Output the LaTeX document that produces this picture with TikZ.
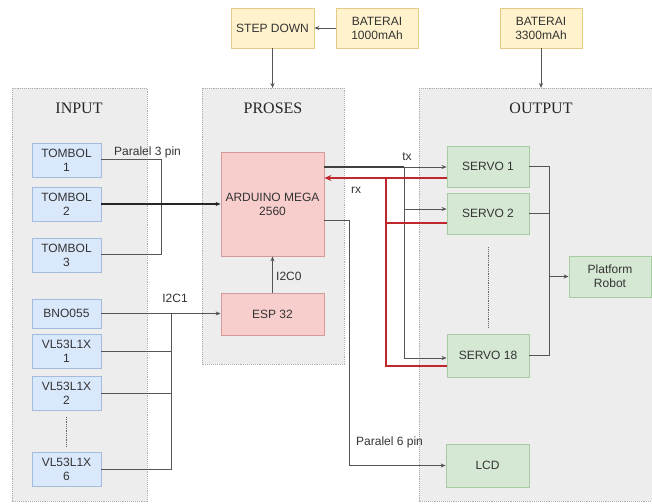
\documentclass[tikz,border=0pt]{standalone}
\usepackage{fontspec}
\setmainfont{Liberation Sans}
\newfontfamily\titlefont{Liberation Serif}
\usetikzlibrary{arrows.meta}
\definecolor{grpfill}{HTML}{EDEDED}
\definecolor{grpline}{HTML}{ADADAD}
\definecolor{bfill}{HTML}{DAE8FC}\definecolor{bline}{HTML}{A3BBDD}
\definecolor{rfill}{HTML}{F8CECC}\definecolor{rline}{HTML}{D49A98}
\definecolor{gfill}{HTML}{D5E8D4}\definecolor{gline}{HTML}{A9CBA4}
\definecolor{yfill}{HTML}{FFF2CC}\definecolor{yline}{HTML}{E3CC8A}
\definecolor{wire}{HTML}{555555}
\definecolor{redwire}{HTML}{C0272D}
\definecolor{txt}{HTML}{333333}
\tikzset{
  grp/.style={fill=grpfill,draw=grpline,densely dotted,line width=0.9pt},
  grptitle/.style={font=\titlefont\fontsize{16}{18}\selectfont,text=black!85},
  box/.style={draw,line width=0.8pt,align=center,inner sep=0pt,text=txt,
    font=\fontsize{12}{14}\selectfont},
  bluebox/.style={box,fill=bfill,draw=bline},
  redbox/.style={box,fill=rfill,draw=rline},
  greenbox/.style={box,fill=gfill,draw=gline},
  yelbox/.style={box,fill=yfill,draw=yline},
  wl/.style={draw=wire,line width=0.8pt},
  txl/.style={draw=black!75,line width=1.6pt},
  rxl/.style={draw=redwire,line width=1.4pt},
  arr/.style={-{Stealth[length=5pt,width=4pt]}},
  lbl/.style={text=txt,font=\fontsize{12}{14}\selectfont,inner sep=0pt},
}
\begin{document}
\begin{tikzpicture}[x=1pt,y=-1pt]
\useasboundingbox (0,0) rectangle (652,503);
% groups
\path[grp] (12,88) rectangle (147,501);
\path[grp] (202,88) rectangle (344,364);
\path[grp] (419,88) rectangle (680,501);
\node[grptitle] (tin) at (79,108) {INPUT};
\node[grptitle] (tpr) at (273,108) {PROSES};
\node[grptitle] (tout) at (541,108) {OUTPUT};
\coordinate (prtop) at (272.5,88);
\coordinate (outtop) at (541,88);
% top power boxes
\node[yelbox,minimum width=83pt,minimum height=40pt] (sd) at (272.5,28) {STEP DOWN};
\node[yelbox,minimum width=82pt,minimum height=40pt] (b1) at (377,28) {BATERAI\\1000mAh};
\node[yelbox,minimum width=82pt,minimum height=40pt] (b2) at (541,28) {BATERAI\\3300mAh};
% input boxes
\node[bluebox,minimum width=69pt,minimum height=34pt] (t1) at (66.5,160) {TOMBOL\\1};
\node[bluebox,minimum width=69pt,minimum height=34pt] (t2) at (66.5,204) {TOMBOL\\2};
\node[bluebox,minimum width=69pt,minimum height=34pt] (t3) at (66.5,255) {TOMBOL\\3};
\node[bluebox,minimum width=69pt,minimum height=29pt] (bno) at (66.5,313.5) {BNO055};
\node[bluebox,minimum width=69pt,minimum height=34pt] (v1) at (66.5,351.5) {VL53L1X\\1};
\node[bluebox,minimum width=69pt,minimum height=34pt] (v2) at (66.5,393.5) {VL53L1X\\2};
\node[bluebox,minimum width=69pt,minimum height=34pt] (v6) at (66.5,469.5) {VL53L1X\\6};
% process boxes
\node[redbox,minimum width=103pt,minimum height=104pt] (ard) at (272.5,204) {ARDUINO MEGA\\2560};
\node[redbox,minimum width=103pt,minimum height=42pt] (esp) at (272.5,314) {ESP 32};
% output boxes
\node[greenbox,minimum width=82pt,minimum height=41pt] (s1) at (488,166.5) {SERVO 1};
\node[greenbox,minimum width=82pt,minimum height=41pt] (s2) at (488,213.5) {SERVO 2};
\node[greenbox,minimum width=82pt,minimum height=43pt] (s18) at (488,355.5) {SERVO 18};
\node[greenbox,minimum width=82pt,minimum height=41pt] (plat) at (610,276.5) {Platform\\Robot};
\node[greenbox,minimum width=83pt,minimum height=43pt] (lcd) at (487.5,465.5) {LCD};
% ellipsis dots
\draw[draw=black!60,densely dotted,line width=0.8pt] ([yshift=-6pt]v2.south) -- ([yshift=5pt]v6.north);
\draw[draw=black!60,densely dotted,line width=0.8pt] ([yshift=-13pt]s2.south) -- ([yshift=6pt]s18.north);
% power
\draw[wl,arr] (b1.west) -- (sd.east);
\draw[wl,arr] (sd.south) -- (prtop);
\draw[wl,arr] (b2.south) -- (outtop);
% tombol bus
\coordinate (tj) at (161,204);
\draw[wl] (t1.east |- 0,159) -| (tj);
\draw[wl] (t3.east |- 0,254) -| (tj);
\draw[draw=black!85,line width=1.1pt,arr] (t2.east) -- (ard.west |- t2.east);
\node[lbl,anchor=west] (p3) at (114,152) {Paralel 3 pin};
% i2c1 bus
\coordinate (ij) at (171,313.5);
\draw[wl,arr] (bno.east) -- (esp.west |- bno.east);
\draw[wl] (v1.east) -| (ij);
\draw[wl] (v2.east) -| (ij);
\draw[wl] (v6.east) -| (ij);
\node[lbl] (i2c1) at (175,298) {I2C1};
% i2c0
\draw[wl,arr] (esp.north) -- (ard.south);
\node[lbl,anchor=west] (i2c0) at (276,276) {I2C0};
% tx
\coordinate (txj) at (404,167);
\draw[txl] (ard.east |- txj) -- (txj);
\draw[wl,arr] (txj) -- (s1.west |- txj);
\draw[wl,arr] (txj) |- ([yshift=4.5pt]s2.west);
\draw[wl,arr] (txj) |- ([yshift=-2.5pt]s18.west);
\node[lbl] (txlab) at (407,157) {tx};
% rx
\coordinate (rxj) at (386,178);
\draw[rxl,-{Stealth[length=7pt,width=6pt]}] ([yshift=-11.5pt]s1.west) -- (ard.east |- rxj);
\draw[rxl] ([yshift=-9.5pt]s2.west) -| (rxj);
\draw[rxl] ([yshift=-10.5pt]s18.west) -| (rxj);
\node[lbl] (rxlab) at (356,190) {rx};
% servos to platform
\coordinate (pj) at (549,276.5);
\draw[wl] (s1.east) -| (pj);
\draw[wl] (s2.east) -| (pj);
\draw[wl] (s18.east) -| (pj);
\draw[wl,arr] (pj) -- (plat.west);
% lcd
\coordinate (lj) at (349,220);
\draw[wl,arr] (ard.east |- lj) -- (lj) |- (lcd.west);
\node[lbl,anchor=west] (p6) at (356,442) {Paralel 6 pin};
\end{tikzpicture}
\end{document}
